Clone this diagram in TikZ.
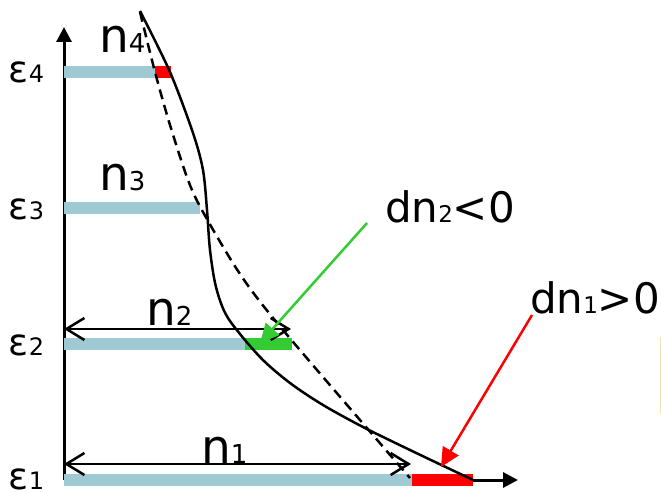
\documentclass[tikz,border=0pt]{standalone}
\usepackage{fontspec}
\setmainfont{DejaVu Sans}
\usetikzlibrary{arrows.meta}
\definecolor{lvl}{HTML}{A0CAD3}
\definecolor{grn}{HTML}{33CC33}
\definecolor{ylw}{HTML}{F2E88C}
\newcommand{\enlab}[1]{{\fontsize{37}{37}\selectfont ε}{\fontsize{24}{24}\selectfont #1}}
\newcommand{\nlab}[1]{{\fontsize{47}{47}\selectfont n}{\fontsize{26}{26}\selectfont #1}}
\newcommand{\dnlab}[2]{{\fontsize{42}{42}\selectfont dn}{\fontsize{23}{23}\selectfont #1}{\fontsize{42}{42}\selectfont #2}}
\begin{document}
\begin{tikzpicture}[x=1pt,y=-1pt,
  txt/.style={inner sep=0pt,outer sep=0pt,anchor=base west},
  axis/.style={line width=3pt,-{Triangle[length=15pt,width=15pt]}},
  level/.style={fill=lvl},
  meas/.style={line width=2.5pt,{Straight Barb[length=18pt,width=22pt]}-{Straight Barb[length=18pt,width=22pt]}},
  curve/.style={line width=2.5pt},
  pointer/.style={line width=2.5pt,-{Triangle[length=19pt,width=18pt]}}]
\useasboundingbox (0,0) rectangle (661,492);
% coordinates
\coordinate (O) at (64,480);
\coordinate (ytop) at (64,27);
\coordinate (xend) at (518,480);
% axes
\draw[axis] (O) -- (ytop);
\draw[axis] (O) -- (xend);
% levels
\fill[level] (64,66) rectangle (155,78);
\fill[red] (155,66) rectangle (171,78);
\fill[level] (64,202) rectangle (200,214);
\fill[level] (64,338) rectangle (245,350);
\fill[grn] (245,338) rectangle (292,350);
\fill[level] (64,474) rectangle (412,486);
\fill[red] (412,474) rectangle (473,486);
% labels
\node[txt] (e4) at (9,83) {\enlab{4}};
\node[txt] (e3) at (9,219) {\enlab{3}};
\node[txt] (e2) at (9,355) {\enlab{2}};
\node[txt] (e1) at (9,489) {\enlab{1}};
\node[txt] (n4) at (99,53) {\nlab{4}};
\node[txt] (n3) at (99,190) {\nlab{3}};
\node[txt] (n2) at (146,325) {\nlab{2}};
\node[txt] (n1) at (201,463) {\nlab{1}};
\node[txt] (dn2) at (385,222) {\dnlab{2}{<0}};
\node[txt] (dn1) at (530,313) {\dnlab{1}{>0}};
% measure arrows
\coordinate (m2a) at (64,329); \coordinate (m2b) at (291,329);
\coordinate (m1a) at (64,464); \coordinate (m1b) at (411,464);
\draw[meas] (m2a) -- (m2b);
\draw[meas] (m1a) -- (m1b);
% curves
\draw[curve] plot[smooth,tension=0.5] coordinates {(140,11) (170,72) (193,133) (203,170) (207,210) (210,250) (216,287) (228,318) (260,357) (290,383) (323,405) (363,427) (410,450) (473,480)};
\draw[curve,dashed,dash pattern=on 10pt off 6pt] plot[smooth,tension=0.5] coordinates {(140,12) (155,72) (170,125) (188,180) (203,212) (240,274) (283,330) (410,478)};
% pointers
\coordinate (g0) at (367,223); \coordinate (g1) at (260,343);
\coordinate (r0) at (532,315); \coordinate (r1) at (441,467);
\draw[pointer,grn] (g0) -- (g1);
\draw[pointer,red] (r0) -- (r1);
% faint line at right edge
\draw[ylw,line width=1pt] (660,337) -- (660,413);
\end{tikzpicture}
\end{document}
